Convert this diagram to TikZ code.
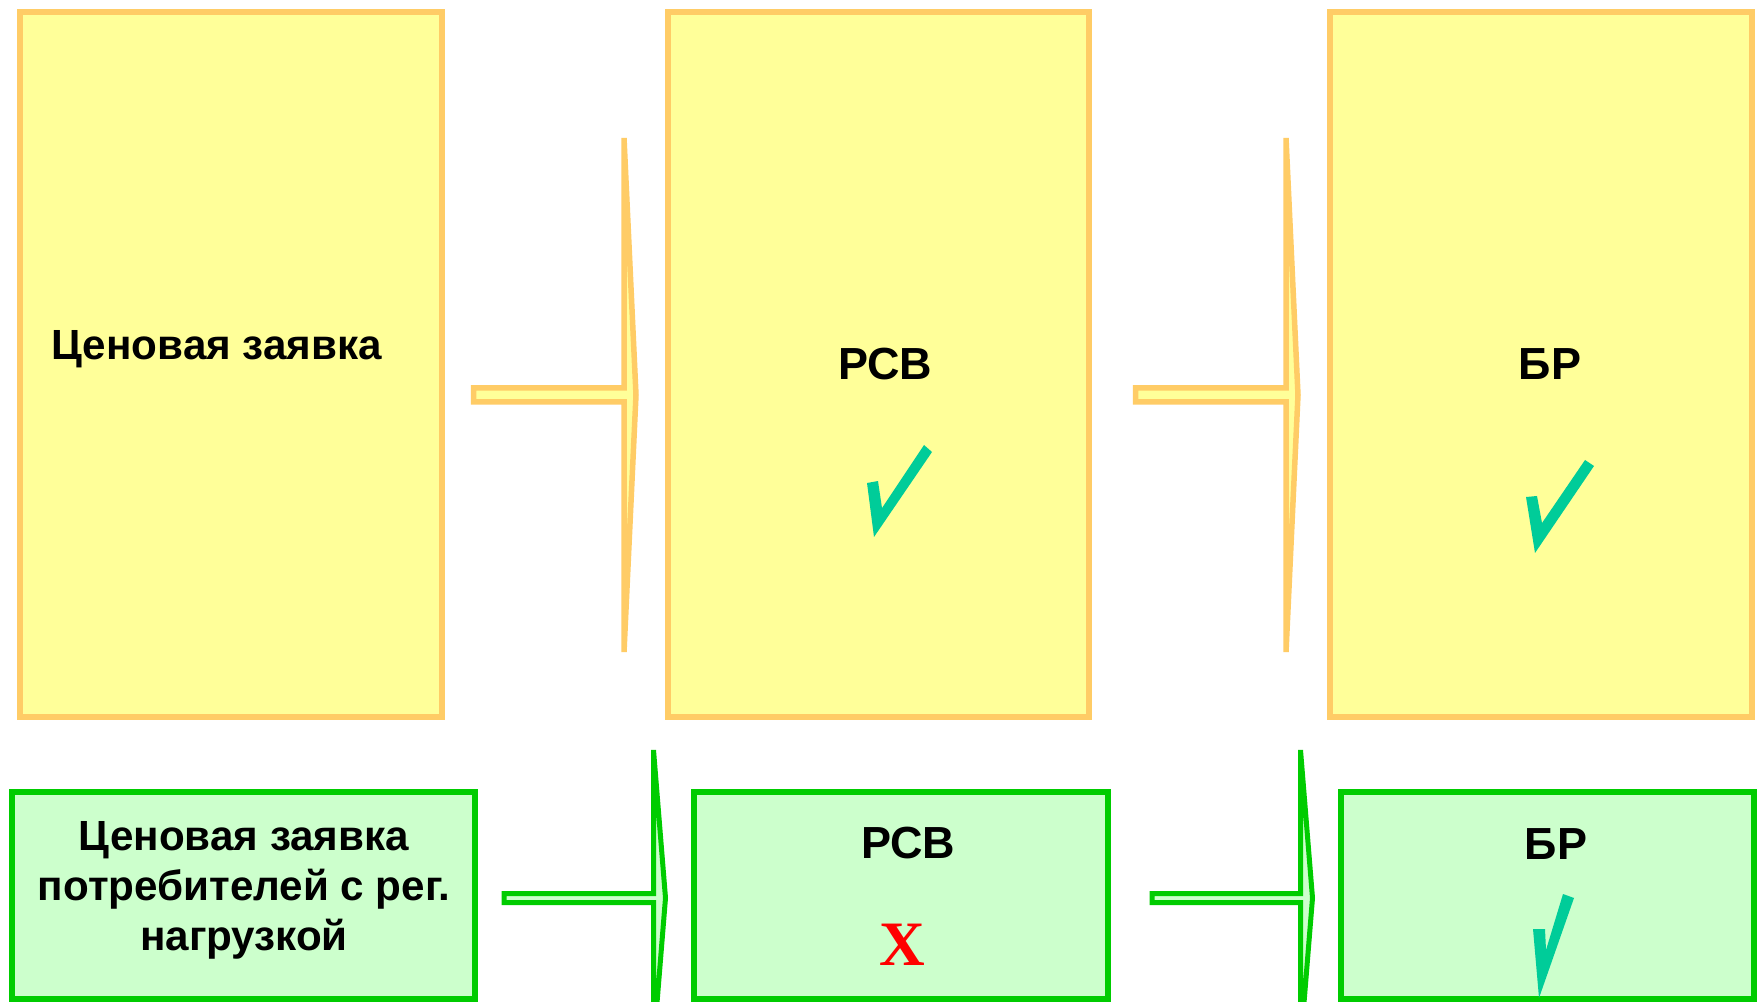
\documentclass[tikz,border=0pt]{standalone}
\usepackage{fontspec}
\setmainfont{Liberation Sans}
\newfontfamily\crossfont{Liberation Serif}
\usepackage{tikz}
\usetikzlibrary{calc}
\definecolor{boxyellow}{RGB}{255,255,153}
\definecolor{edgeorange}{RGB}{255,204,102}
\definecolor{boxgreen}{RGB}{204,255,204}
\definecolor{edgegreen}{RGB}{0,204,0}
\definecolor{tickteal}{RGB}{0,204,153}
\definecolor{crossred}{RGB}{255,0,0}

\tikzset{
  stagebox/.style={rectangle, line width=0.055cm, inner sep=0pt},
  topbox/.style={stagebox, fill=boxyellow, draw=edgeorange, minimum height=7.05cm},
  lowbox/.style={stagebox, fill=boxgreen, draw=edgegreen, minimum height=2.07cm},
  boxlabel/.style={font=\bfseries\fontsize{12}{14.2}\selectfont, inner sep=0pt},
  stagelabel/.style={font=\bfseries\fontsize{12.8}{15}\selectfont, inner sep=0pt},
  toparrow/.style={fill=boxyellow, draw=edgeorange, line width=0.055cm},
  lowarrow/.style={fill=boxgreen, draw=edgegreen, line width=0.05cm},
  tick/.style={fill=tickteal}
}

% flat block arrow: style, tail, tip, shaft half height, head half height
\newcommand{\blockarrow}[5]{%
  \draw[#1] ($(#2)+(0,#4)$) -- ($(#3)+(-0.12,#4)$) -- ($(#3)+(-0.12,#5)$)
    -- (#3) -- ($(#3)+(-0.12,-#5)$) -- ($(#3)+(-0.12,-#4)$)
    -- ($(#2)+(0,-#4)$) -- cycle;
}

\begin{document}
\begin{tikzpicture}
  \fill[white] (0,0) rectangle (17.63,10.01);
  \useasboundingbox (0,0) rectangle (17.63,10.01);

  % Upper row
  \node[topbox, minimum width=4.22cm] (bid) at (2.31,6.365) {};
  \node[topbox, minimum width=4.21cm] (rsv) at (8.785,6.365) {};
  \node[topbox, minimum width=4.22cm] (br) at (15.41,6.365) {};

  \node[boxlabel, anchor=base west] (bidtext) at (0.51,6.41) {Ценовая заявка};
  \node[stagelabel, anchor=base] (rsvtext) at (8.855,6.21) {РСВ};
  \node[stagelabel, anchor=base] (brtext) at (15.5,6.21) {БР};

  \coordinate (up1s) at (4.735,6.06);
  \coordinate (up1e) at (6.36,6.06);
  \coordinate (up2s) at (11.355,6.06);
  \coordinate (up2e) at (12.98,6.06);
  \blockarrow{toparrow}{up1s}{up1e}{0.07}{2.57}
  \blockarrow{toparrow}{up2s}{up2e}{0.07}{2.57}

  % Ticks
  \fill[tick] (8.67,5.18) -- (8.78,5.20) -- (8.82,4.93) -- (9.24,5.56)
    -- (9.32,5.49) -- (8.74,4.64) -- cycle;
  \fill[tick] (15.26,5.04) -- (15.37,5.05) -- (15.42,4.78) -- (15.85,5.41)
    -- (15.94,5.35) -- (15.35,4.48) -- cycle;

  % Lower row
  \node[lowbox, minimum width=4.63cm] (lowbid) at (2.435,1.055) {};
  \node[lowbox, minimum width=4.14cm] (lowrsv) at (9.01,1.055) {};
  \node[lowbox, minimum width=4.13cm] (lowbr) at (15.475,1.055) {};

  \node[boxlabel, align=center] (lowbidtext) at (2.44,1.11)
    {Ценовая заявка\\потребителей с рег.\\нагрузкой};
  \node[stagelabel, anchor=base] (lowrsvtext) at (9.08,1.43) {РСВ};
  \node[stagelabel, anchor=base] (lowbrtext) at (15.56,1.42) {БР};

  \coordinate (low1s) at (5.04,1.03);
  \coordinate (low1e) at (6.655,1.03);
  \coordinate (low2s) at (11.52,1.03);
  \coordinate (low2e) at (13.125,1.03);
  \blockarrow{lowarrow}{low1s}{low1e}{0.045}{1.48}
  \blockarrow{lowarrow}{low2s}{low2e}{0.045}{1.48}

  \node[font=\crossfont\bfseries\fontsize{18}{20}\selectfont, text=crossred,
    anchor=base, inner sep=0pt] (rsvcross) at (9.02,0.36) {X};
  \fill[tick] (15.33,0.72) -- (15.45,0.72) -- (15.46,0.51) -- (15.63,1.07)
    -- (15.74,1.03) -- (15.39,0.03) -- cycle;
\end{tikzpicture}
\end{document}
